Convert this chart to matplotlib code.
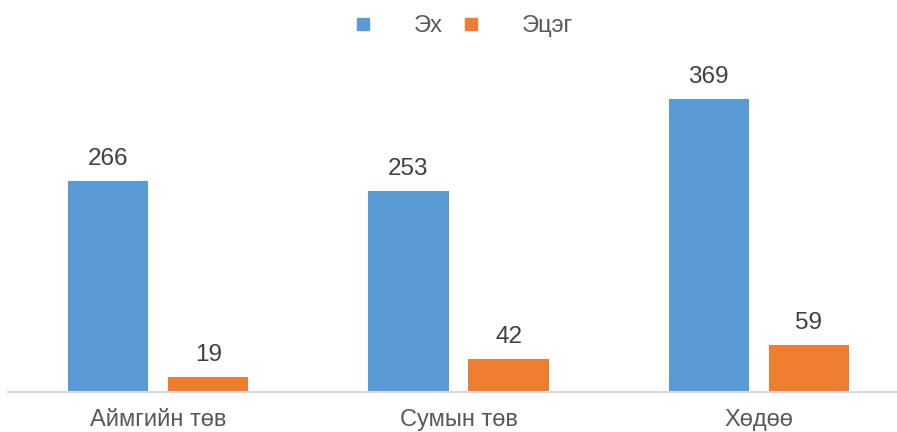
import matplotlib.pyplot as plt
from matplotlib.lines import Line2D
import numpy as np

plt.rcParams['font.family'] = ['Liberation Sans', 'DejaVu Sans']

categories = ['Аймгийн төв', 'Сумын төв', 'Хөдөө']
mother = [266, 253, 369]
father = [19, 42, 59]
series_names = ['Эх', 'Эцэг']

blue = '#5B9BD5'
orange = '#ED7D31'
txt = '#595959'

fig = plt.figure(figsize=(8.97, 4.32), dpi=100)
ax = fig.add_axes([8 / 897, 40 / 432, 1 - 8 / 897, 317.6 / 432])

x = np.arange(len(categories))
w = 0.267
b1 = ax.bar(x - 0.1667, mother, w, color=blue)
b2 = ax.bar(x + 0.1667, father, w, color=orange)

for bars in (b1, b2):
    for r in bars:
        ax.annotate(str(int(r.get_height())), (r.get_x() + r.get_width() / 2, r.get_height()),
                    xytext=(0, 8), textcoords='offset points', ha='center', va='bottom',
                    fontsize=17.5, color='#404040')

ax.set_xlim(-0.5, 2.46)
ax.set_ylim(0, 400)
ax.set_yticks([])
ax.set_xticks(x)
ax.set_xticklabels(categories, fontsize=17, color=txt)
ax.tick_params(axis='x', length=0, pad=12)
for s in ['top', 'left', 'right']:
    ax.spines[s].set_visible(False)
ax.spines['bottom'].set_color('#D9D9D9')
ax.spines['bottom'].set_linewidth(1.5)

handles = [Line2D([], [], marker='s', linestyle='none', markersize=9, color=blue),
           Line2D([], [], marker='s', linestyle='none', markersize=9, color=orange)]
leg = fig.legend(handles, series_names, loc='center', bbox_to_anchor=(462 / 897, 1 - 26 / 432),
                 ncol=2, frameon=False, fontsize=17, handletextpad=1.65, columnspacing=0.66,
                 handlelength=1.0)
for t in leg.get_texts():
    t.set_color(txt)

fig.savefig('out.png', dpi=100)
